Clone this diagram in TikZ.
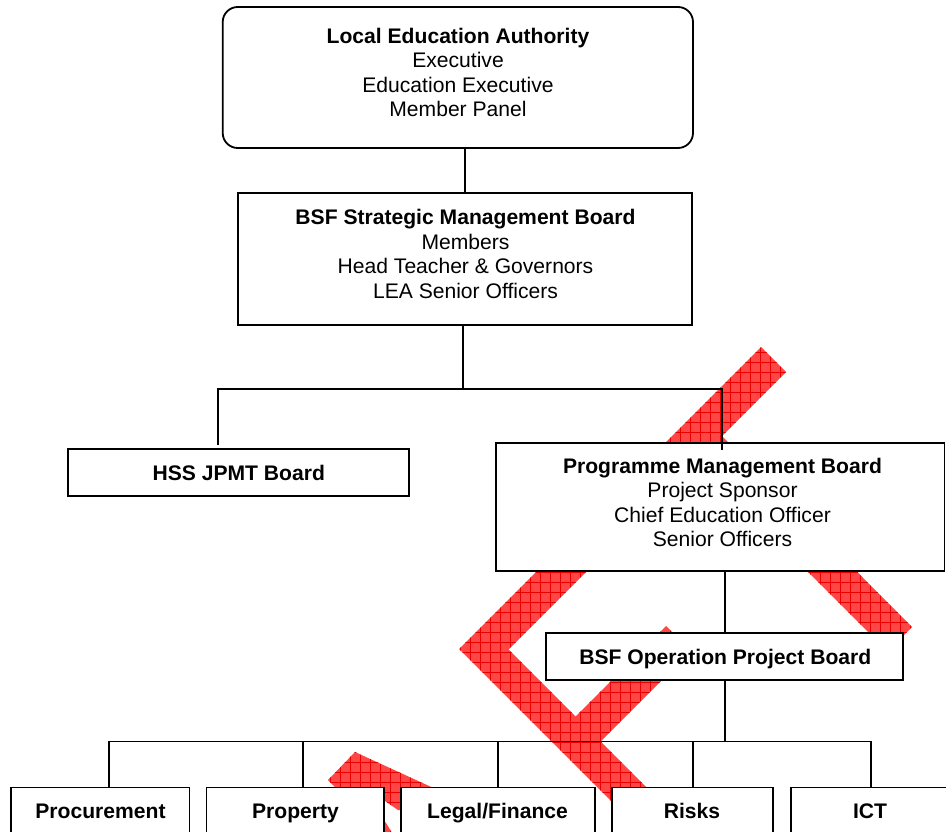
\documentclass[tikz,border=0pt]{standalone}
\usepackage{fontspec}
\setmainfont{Liberation Sans}
\usetikzlibrary{calc,patterns.meta}
\definecolor{wmfill}{RGB}{255,70,70}
\definecolor{wmline}{RGB}{235,0,0}
\begin{document}
\begin{tikzpicture}[x=1pt,y=-1pt,
  font=\fontsize{21.1}{24.5}\selectfont,
  box/.style={draw=black, line width=1.8pt, fill=white, inner sep=0pt, outer sep=0pt},
  conn/.style={draw=black, line width=1.8pt},
  lbl/.style={inner sep=0pt, outer sep=0pt, align=center},
  wm/.style={fill=wmfill, postaction={pattern={Hatch[distance=10pt,angle=0,line width=0.9pt]}, pattern color=wmline}}
]
\useasboundingbox (0,0) rectangle (946,832);
\clip (0,0) rectangle (946,832);
\fill[white] (0,0) rectangle (946,832);

% red hatched stamp behind the chart
\path[wm] (761,347) -- (459,649) -- (710,900) -- (759,900) -- (508.5,649.5) -- (786,372) -- cycle;
\path[wm] (565.5,726.5) -- (666,626) -- (691,651) -- (590.5,751.5) -- cycle;
\path[wm] (712,426) -- (912,627) -- (887.5,651.5) -- (687,451) -- cycle;
\path[wm] (355,752) -- (440,791) -- (440,815) -- (398,810) -- (385,801) -- (370,800) -- (335,787) -- (328,780) -- cycle;
\path[wm] (378,818) -- (386,823) -- (394,836) -- (378,836) -- cycle;

% boxes
\node[box, rounded corners=15pt, minimum width=470.3pt, minimum height=141pt] (lea) at (457.85,77.5) {};
\node[box, minimum width=454pt, minimum height=132pt] (smb) at (465,259) {};
\node[box, minimum width=341pt, minimum height=46.7pt] (hss) at (238.8,472.65) {};
\node[box, minimum width=448.8pt, minimum height=128.3pt] (pmb) at (720.1,506.85) {};
\node[box, minimum width=357.3pt, minimum height=46.7pt] (bop) at (724.65,656.65) {};
\node[box, minimum width=178.6pt, minimum height=90pt] (proc) at (100.2,832.5) {};
\node[box, minimum width=177.4pt, minimum height=90pt] (prop) at (295.1,832.5) {};
\node[box, minimum width=194.6pt, minimum height=90pt] (legal) at (498,832.5) {};
\node[box, minimum width=161pt, minimum height=90pt] (risks) at (692.5,832.5) {};
\node[box, minimum width=160.4pt, minimum height=90pt] (ict) at (870.8,832.5) {};

% texts
\node[lbl] (lea-t) at (458,72.45) {\textbf{Local Education Authority}\\Executive\\Education Executive\\Member Panel};
\node[lbl] (smb-t) at (465.5,253.95) {\textbf{BSF Strategic Management Board}\\Members\\Head Teacher \& Governors\\LEA Senior Officers};
\node[lbl, anchor=base] (hss-t) at (238.8,480) {\textbf{HSS JPMT Board}};
\node[lbl] (pmb-t) at (722.5,502.45) {\textbf{Programme Management Board}\\Project Sponsor\\Chief Education Officer\\Senior Officers};
\node[lbl, anchor=base] (bop-t) at (725.3,664) {\textbf{BSF Operation Project Board}};
\node[lbl, anchor=base] (proc-t) at (100.5,818) {\textbf{Procurement}};
\node[lbl, anchor=base] (prop-t) at (295.5,818) {\textbf{Property}};
\node[lbl, anchor=base] (legal-t) at (497.5,818) {\textbf{Legal/Finance}};
\node[lbl, anchor=base] (risks-t) at (692,818) {\textbf{Risks}};
\node[lbl, anchor=base] (ict-t) at (870,818) {\textbf{ICT}};

% connectors
\coordinate (busL) at (218.3,389);
\coordinate (busM) at (463.3,389);
\coordinate (busR) at (722,389);
\coordinate (t1) at (108.6,741.5);
\coordinate (t2) at (303.3,741.5);
\coordinate (t3) at (498.3,741.5);
\coordinate (t4) at (692.8,741.5);
\coordinate (t5) at (870.9,741.5);

\draw[conn] (smb.north) -- (smb.north |- lea.south);
\draw[conn] (busM |- smb.south) -- (busM);
\draw[conn] ($(busL |- hss.north)+(0,4pt)$) -- (busL) -- (busR) -- ($(busR |- pmb.north)+(0,-7pt)$);
\draw[conn] (bop.north) -- (bop.north |- pmb.south);
\draw[conn] (bop.south) -- (bop.south |- t1);
\draw[conn] (t1 |- proc.north) -- (t1) -- (t5) -- (t5 |- ict.north);
\draw[conn] (t2) -- (t2 |- prop.north);
\draw[conn] (t3) -- (t3 |- legal.north);
\draw[conn] (t4) -- (t4 |- risks.north);
\end{tikzpicture}
\end{document}
